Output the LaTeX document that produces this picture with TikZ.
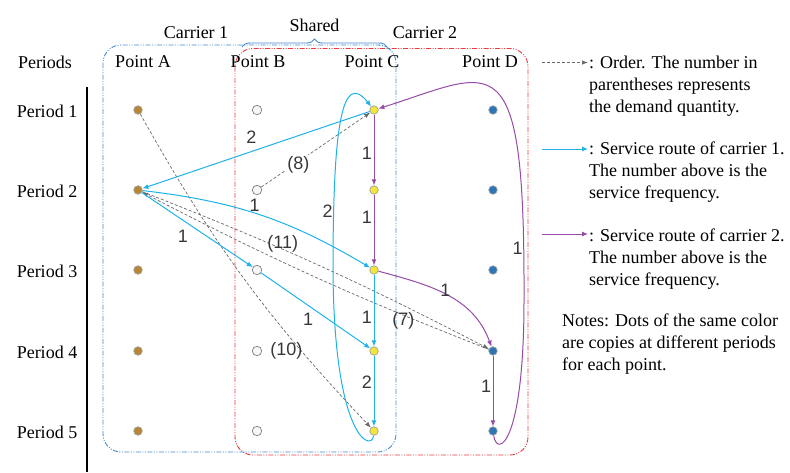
\documentclass[tikz,border=0pt]{standalone}
\usepackage{fontspec}
\setmainfont{Liberation Serif}
\setsansfont{Liberation Sans}
\usetikzlibrary{arrows.meta,decorations.pathreplacing}
\definecolor{colA}{RGB}{185,135,50}
\definecolor{colB}{RGB}{246,246,246}
\definecolor{colC}{RGB}{242,230,60}
\definecolor{colD}{RGB}{46,117,182}
\definecolor{colCarOne}{RGB}{30,178,232}
\definecolor{colCarTwo}{RGB}{150,75,165}
\definecolor{colOrder}{RGB}{105,105,105}
\definecolor{colBoxOne}{RGB}{70,140,205}
\definecolor{colBoxTwo}{RGB}{232,60,66}
\definecolor{colNum}{RGB}{55,55,55}

\begin{document}
\begin{tikzpicture}[x=1pt,y=-1pt,
    every node/.style={font=\fontsize{18}{22}\selectfont},
    dot/.style={circle,draw=gray!75,line width=0.7pt,minimum size=8.5pt,inner sep=0pt},
    lbl/.style={font=\sffamily\fontsize{18}{22}\selectfont,text=colNum,inner sep=1pt},
    order/.style={draw=colOrder,densely dashed,line width=0.7pt,-{Latex[length=6pt,width=4.5pt]}},
    carone/.style={draw=colCarOne,line width=1pt,-{Latex[length=6pt,width=5pt]}},
    cartwo/.style={draw=colCarTwo,line width=1pt,-{Latex[length=6pt,width=5pt]}},
    areaone/.style={draw=colBoxOne,line width=0.9pt,rounded corners=18pt,dash pattern=on 5pt off 1.5pt on 1pt off 1.5pt on 1pt off 1.5pt},
    areatwo/.style={draw=colBoxTwo,line width=0.9pt,rounded corners=18pt,dash pattern=on 5pt off 1.5pt on 1pt off 1.5pt on 1pt off 1.5pt},
    sharebrace/.style={draw=colBoxOne,line width=0.9pt,decorate,decoration={brace,amplitude=8pt}},
    legend/.style={anchor=north west,align=left,inner sep=0pt}]
    \useasboundingbox (0,0) rectangle (790,472);

    % carrier areas
    \draw[areatwo] (235,48.5) rectangle (528,455);
    \draw[areaone] (103,45) rectangle (396,452);
    \draw[sharebrace] (242,47) -- (387,47) node[midway,above=12pt] (shared) {Shared};
    \node (carone) at (196,33) {Carrier 1};
    \node (cartwo) at (425,33) {Carrier 2};

    % headers
    \node (hper) at (45,62) {Periods};
    \node (hpa) at (143,62) {Point A};
    \node (hpb) at (258,62) {Point B};
    \node (hpc) at (372,62) {Point C};
    \node (hpd) at (490,62) {Point D};
    \draw[line width=1.2pt] (87,87) -- (87,472);

    % time-expanded points
    \foreach \i/\y in {1/110,2/190,3/270,4/351,5/431}{
        \node (per\i) at (47,\y+1) {Period \i};
        \node[dot,fill=colA] (a\i) at (138,\y) {};
        \node[dot,fill=colB,draw=gray,minimum size=9.5pt] (b\i) at (257,\y) {};
        \node[dot,fill=colC] (c\i) at (374,\y) {};
        \node[dot,fill=colD] (d\i) at (493,\y) {};
    }

    % orders
    \draw[order] (a1) to[bend right=7] node[lbl,pos=0.75,xshift=-15pt] {(10)} (c5);
    \draw[order] (b2) -- node[lbl,pos=0.34,yshift=-3pt,fill=white] {(8)} (c1);
    \draw[order] (a2) to[bend left=3] node[lbl,pos=0.39,yshift=5pt] {(11)} (d4);
    \draw[order] (d4) to[bend left=3] node[lbl,pos=0.225,yshift=-6pt] {(7)} (a2);

    % carrier 1
    \draw[carone] (c1) -- node[lbl,pos=0.52,yshift=14pt] {2} (a2);
    \draw[carone] (a2) to[bend left=12] node[lbl,pos=0.47,yshift=8pt] {1} (c3);
    \draw[carone] (a2) -- node[lbl,pos=0.37,yshift=-16pt] {1} (b3);
    \draw[carone] (b3) -- node[lbl,pos=0.43,yshift=-14pt] {1} (c4);
    \draw[carone] (c3) -- node[lbl,pos=0.59,xshift=-7pt] {1} (c4);
    \draw[carone] (c4) -- node[lbl,pos=0.38,xshift=-7pt] {2} (c5);
    \coordinate (cyanmid) at (333,270);
    \draw[carone] (c5) .. controls (372,452) and (334,440) .. (cyanmid)
        .. controls (333,125) and (342,70) .. node[lbl,pos=0.15,xshift=-6pt] {2} (c1);

    % carrier 2
    \draw[cartwo] (c1) -- node[lbl,pos=0.54,xshift=-7pt] {1} (c2);
    \draw[cartwo] (c2) -- node[lbl,pos=0.32,xshift=-7pt] {1} (c3);
    \draw[cartwo] (c3) to[out=-15,in=110] node[lbl,pos=0.5,xshift=-2pt,yshift=5pt] {1} (d4);
    \draw[cartwo] (d4) -- node[lbl,pos=0.44,xshift=-7pt] {1} (d5);
    \coordinate (purplemid) at (524,300);
    \draw[cartwo] (d5) .. controls (497,458) and (524,445) .. (purplemid)
        .. controls (525,35) and (495,72) .. node[lbl,pos=0.07,xshift=-6pt] {1} (c1);

    % legend
    \coordinate (keyorders) at (542,62.5);
    \coordinate (keyordere) at (588,62.5);
    \draw[order] (keyorders) -- (keyordere);
    \node[legend] (keyorder) at (589,55.7) {: Order. The number in\\parentheses represents\\the demand quantity.};
    \coordinate (keyones) at (542,149);
    \coordinate (keyonee) at (588,149);
    \draw[carone] (keyones) -- (keyonee);
    \node[legend] (keyone) at (589,141.7) {: Service route of carrier 1.\\The number above is the\\service frequency.};
    \coordinate (keytwos) at (542,234);
    \coordinate (keytwoe) at (588,234);
    \draw[cartwo] (keytwos) -- (keytwoe);
    \node[legend] (keytwo) at (589,228.7) {: Service route of carrier 2.\\The number above is the\\service frequency.};
    \node[legend] (notes) at (562,313.7) {Notes: Dots of the same color\\are copies at different periods\\for each point.};
\end{tikzpicture}
\end{document}
